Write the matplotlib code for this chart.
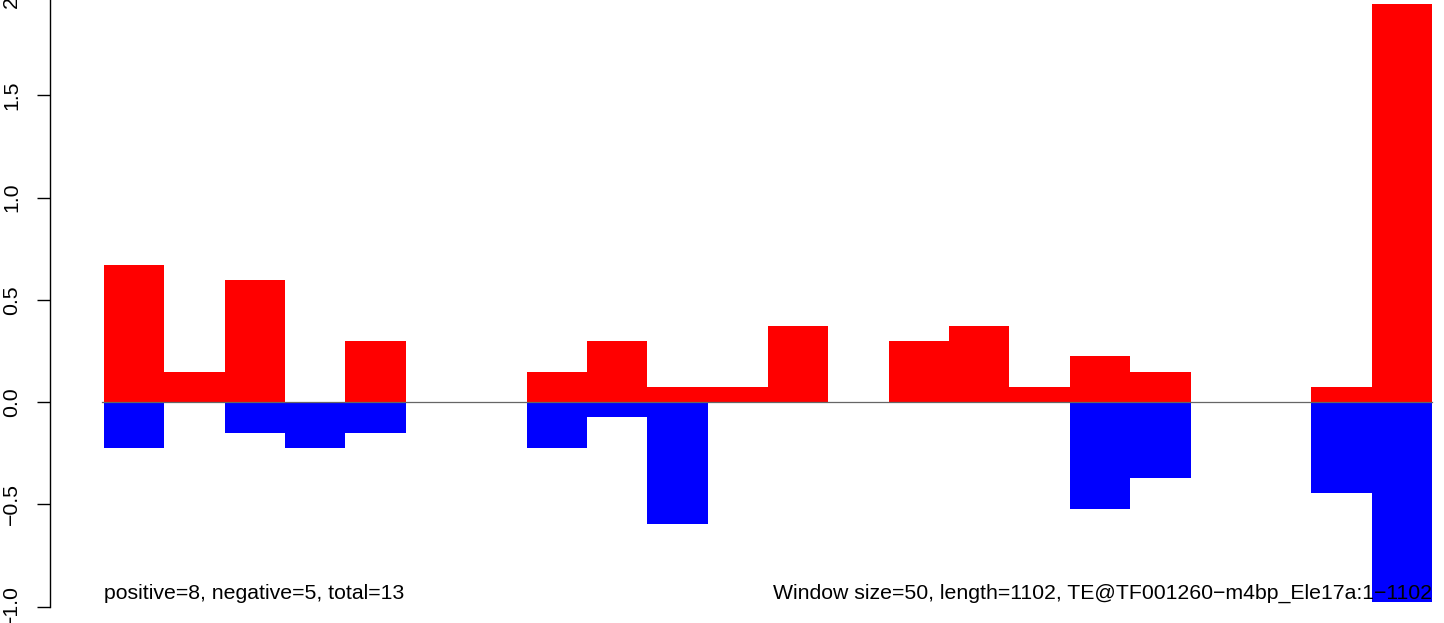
import numpy as np
import matplotlib
matplotlib.use("Agg")
import matplotlib.pyplot as plt

plt.rcParams['font.family'] = ['Liberation Sans', 'DejaVu Sans']

# one window of 50 bp per bar, 22 windows over length 1102
positive = [0.670, 0.147, 0.598, 0.0, 0.299, 0.0, 0.0, 0.147, 0.299, 0.0735, 0.0735,
            0.3725, 0.0, 0.299, 0.3725, 0.0735, 0.225, 0.147, 0.0, 0.0, 0.0735, 1.946]
negative = [-0.225, 0.0, -0.152, -0.225, -0.152, 0.0, 0.0, -0.225, -0.0735, -0.598, 0.0,
            0.0, 0.0, 0.0, 0.0, 0.0, -0.525, -0.3725, 0.0, 0.0, -0.445, -0.977]
yticks = [-1.0, -0.5, 0.0, 0.5, 1.0, 1.5, 2.0]
ytick_labels = ['\u22121.0', '\u22120.5', '0.0', '0.5', '1.0', '1.5', '2.0']
left_note = "positive=8, negative=5, total=13"
right_note = "Window size=50, length=1102, TE@TF001260\u2212m4bp_Ele17a:1\u22121102"

n = len(positive)
x = np.arange(n)

fig = plt.figure(figsize=(14.44, 6.23), dpi=100)
ax = fig.add_axes([0, 0, 1, 1])

ax.bar(x, positive, width=1.0, align='edge', color='#ff0000', linewidth=0)
ax.bar(x, negative, width=1.0, align='edge', color='#0000ff', linewidth=0)
ax.plot([-0.025, n], [0, 0], color='#666666', linewidth=0.9, zorder=3)

for s in ['top', 'right', 'bottom']:
    ax.spines[s].set_visible(False)
ax.set_xticks([])
ax.set_yticks(yticks[:-1])
ax.set_yticklabels(ytick_labels[:-1])

# pixel mapping: bars from x=104 to 1432, zero at y=402, 204.5 px per unit
bw = (1432 - 104) / n
ax.set_xlim(-104 / bw, (1444 - 104) / bw)
ax.set_ylim(-(623 - 402) / 204.5, 402 / 204.5)

ax.spines['left'].set_position(('data', -(104 - 50) / bw))
ax.spines['left'].set_bounds(-1.0, 2.0)
ax.spines['left'].set_linewidth(1.0)
ax.tick_params(axis='y', length=9.4, width=1.0, pad=11.5, labelsize=15.3, direction='out')
for lab in ax.get_yticklabels():
    lab.set_rotation(90)
    lab.set_va('center')

# the top tick sits just above the picture, only part of its label shows
ax.text(-(104 - 21) / bw, yticks[-1], ytick_labels[-1], rotation=90, ha='right',
        va='center', fontsize=15.3, clip_on=False)

ax.text(0, -0.935, left_note, ha='left', va='center', fontsize=15.3)
ax.text(n, -0.935, right_note, ha='right', va='center', fontsize=15.3, zorder=4)

fig.savefig('out.png', dpi=100)
